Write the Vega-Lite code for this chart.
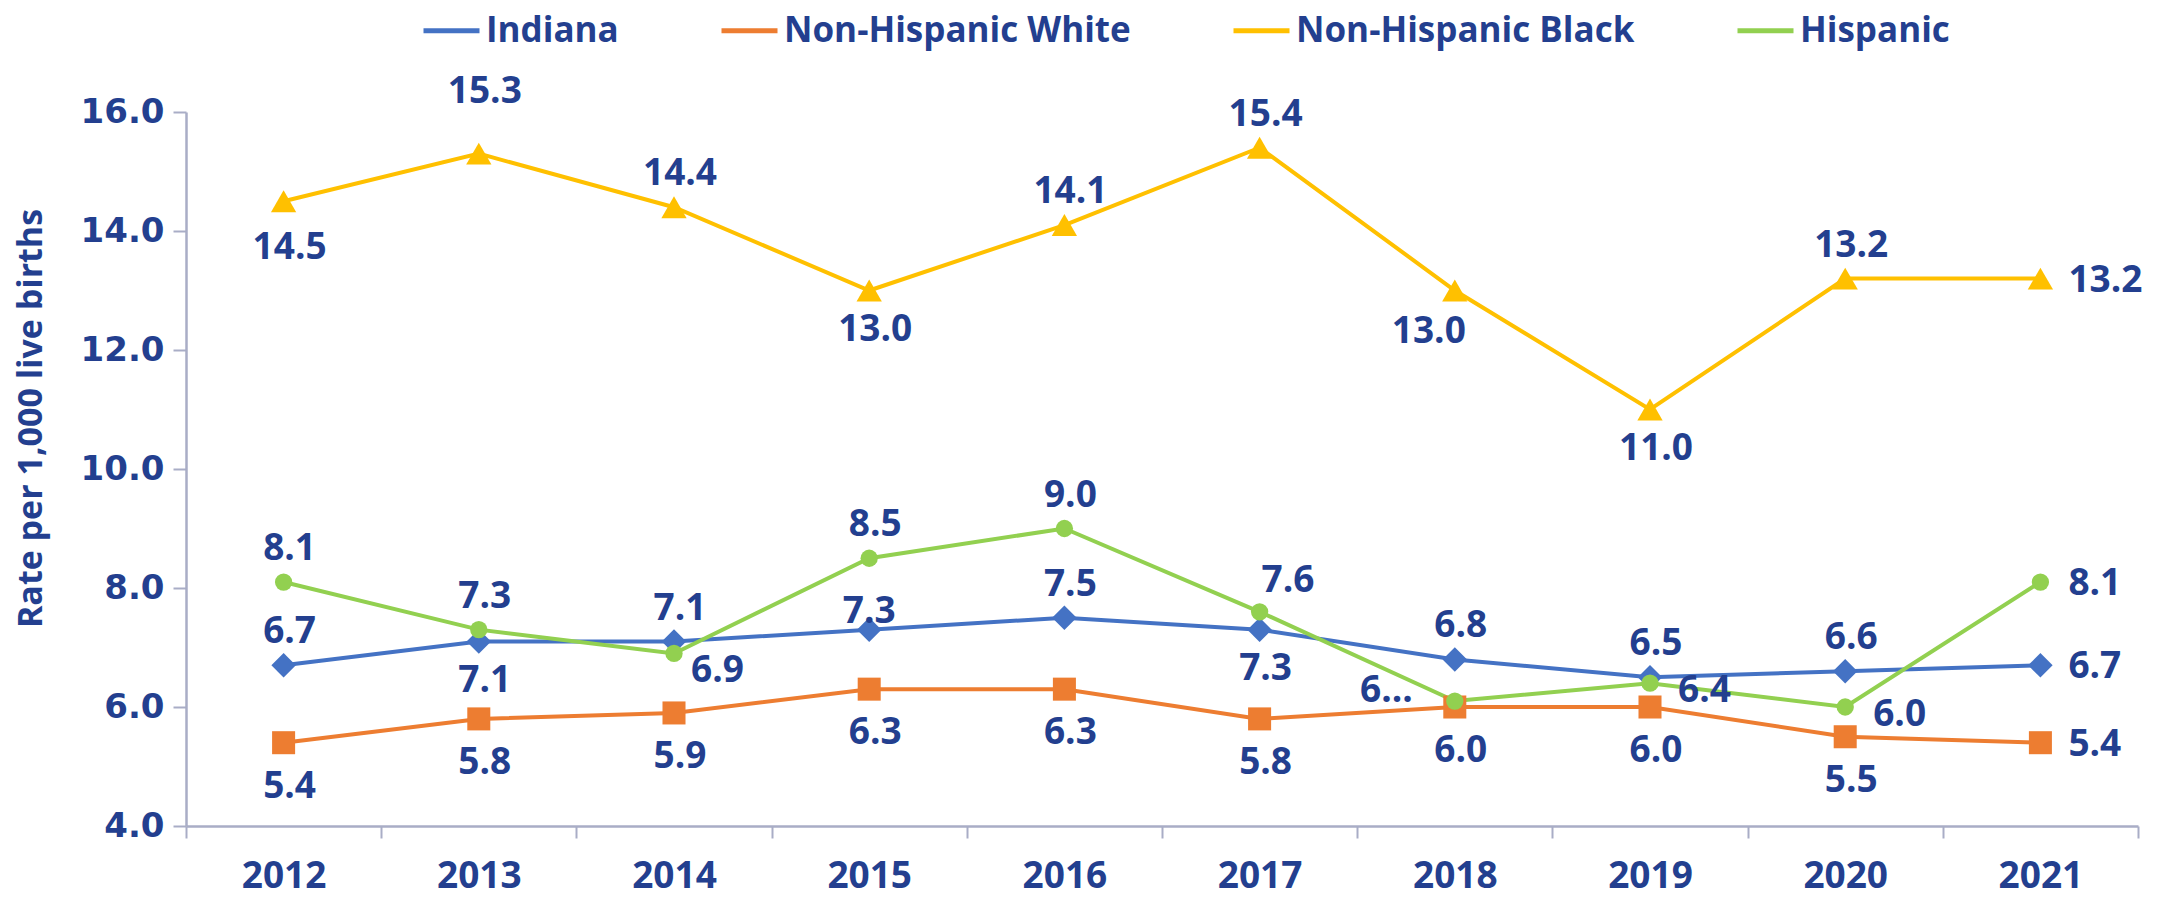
{
  "$schema": "https://vega.github.io/schema/vega-lite/v6.json",
  "width": 1952,
  "height": 714,
  "autosize": {"type": "none"},
  "padding": {"left": 186, "top": 112, "right": 26, "bottom": 73},
  "datasets": {
    "d": [
      {"series": "Indiana", "year": "2012", "value": 6.7},
      {"series": "Indiana", "year": "2013", "value": 7.1},
      {"series": "Indiana", "year": "2014", "value": 7.1},
      {"series": "Indiana", "year": "2015", "value": 7.3},
      {"series": "Indiana", "year": "2016", "value": 7.5},
      {"series": "Indiana", "year": "2017", "value": 7.3},
      {"series": "Indiana", "year": "2018", "value": 6.8},
      {"series": "Indiana", "year": "2019", "value": 6.5},
      {"series": "Indiana", "year": "2020", "value": 6.6},
      {"series": "Indiana", "year": "2021", "value": 6.7},
      {"series": "Non-Hispanic White", "year": "2012", "value": 5.4},
      {"series": "Non-Hispanic White", "year": "2013", "value": 5.8},
      {"series": "Non-Hispanic White", "year": "2014", "value": 5.9},
      {"series": "Non-Hispanic White", "year": "2015", "value": 6.3},
      {"series": "Non-Hispanic White", "year": "2016", "value": 6.3},
      {"series": "Non-Hispanic White", "year": "2017", "value": 5.8},
      {"series": "Non-Hispanic White", "year": "2018", "value": 6.0},
      {"series": "Non-Hispanic White", "year": "2019", "value": 6.0},
      {"series": "Non-Hispanic White", "year": "2020", "value": 5.5},
      {"series": "Non-Hispanic White", "year": "2021", "value": 5.4},
      {"series": "Non-Hispanic Black", "year": "2012", "value": 14.5},
      {"series": "Non-Hispanic Black", "year": "2013", "value": 15.3},
      {"series": "Non-Hispanic Black", "year": "2014", "value": 14.4},
      {"series": "Non-Hispanic Black", "year": "2015", "value": 13.0},
      {"series": "Non-Hispanic Black", "year": "2016", "value": 14.1},
      {"series": "Non-Hispanic Black", "year": "2017", "value": 15.4},
      {"series": "Non-Hispanic Black", "year": "2018", "value": 13.0},
      {"series": "Non-Hispanic Black", "year": "2019", "value": 11.0},
      {"series": "Non-Hispanic Black", "year": "2020", "value": 13.2},
      {"series": "Non-Hispanic Black", "year": "2021", "value": 13.2},
      {"series": "Hispanic", "year": "2012", "value": 8.1},
      {"series": "Hispanic", "year": "2013", "value": 7.3},
      {"series": "Hispanic", "year": "2014", "value": 6.9},
      {"series": "Hispanic", "year": "2015", "value": 8.5},
      {"series": "Hispanic", "year": "2016", "value": 9.0},
      {"series": "Hispanic", "year": "2017", "value": 7.6},
      {"series": "Hispanic", "year": "2018", "value": 6.1},
      {"series": "Hispanic", "year": "2019", "value": 6.4},
      {"series": "Hispanic", "year": "2020", "value": 6.0},
      {"series": "Hispanic", "year": "2021", "value": 8.1}
    ]
  },
  "data": {"name": "d"},
  "layer": [
    {
      "mark": {"type": "line", "strokeWidth": 4},
      "encoding": {
        "x": {"field": "year", "type": "ordinal", "scale": {"type": "band", "paddingInner": 0, "paddingOuter": 0}, "axis": {"title": null}},
        "y": {"field": "value", "type": "quantitative", "scale": {"domain": [4, 16], "nice": false, "zero": false},
          "axis": {"title": "Rate per 1,000 live births", "values": [4, 6, 8, 10, 12, 14, 16], "format": ".1f"}},
        "color": {"field": "series", "type": "nominal",
          "scale": {"domain": ["Indiana", "Non-Hispanic White", "Non-Hispanic Black", "Hispanic"], "range": ["#4472C4", "#ED7D31", "#FFC000", "#92D050"]},
          "legend": {"orient": "top", "direction": "horizontal", "title": null, "offset": -172, "padding": 235, "labelFontSize": 35, "labelFont": "Open Sans", "labelFontWeight": "bold", "labelColor": "#233F8F", "symbolSize": 3136, "symbolType": "stroke", "symbolStrokeWidth": 5, "labelLimit": 600, "columnPadding": 92, "labelOffset": 4}}
      }
    },
    {
      "transform": [{"filter": "datum.series == 'Indiana'"}],
      "mark": {"type": "point", "shape": "diamond", "filled": true, "size": 600, "opacity": 1, "color": "#4472C4"},
      "encoding": {"x": {"field": "year", "type": "ordinal"}, "y": {"field": "value", "type": "quantitative"}}
    },
    {
      "transform": [{"filter": "datum.series == 'Non-Hispanic White'"}],
      "mark": {"type": "point", "shape": "square", "filled": true, "size": 530, "opacity": 1, "color": "#ED7D31"},
      "encoding": {"x": {"field": "year", "type": "ordinal"}, "y": {"field": "value", "type": "quantitative"}}
    },
    {
      "transform": [{"filter": "datum.series == 'Non-Hispanic Black'"}],
      "mark": {"type": "point", "shape": "triangle-up", "filled": true, "size": 640, "opacity": 1, "color": "#FFC000"},
      "encoding": {"x": {"field": "year", "type": "ordinal"}, "y": {"field": "value", "type": "quantitative"}}
    },
    {
      "transform": [{"filter": "datum.series == 'Hispanic'"}],
      "mark": {"type": "point", "shape": "circle", "filled": true, "size": 300, "opacity": 1, "color": "#92D050"},
      "encoding": {"x": {"field": "year", "type": "ordinal"}, "y": {"field": "value", "type": "quantitative"}}
    },
    {
      "transform": [{"filter": "indexof(['Indiana|2012','Indiana|2014','Indiana|2016','Indiana|2018','Indiana|2019','Indiana|2020','Non-Hispanic Black|2014','Non-Hispanic Black|2016','Non-Hispanic Black|2017','Non-Hispanic Black|2020','Hispanic|2012','Hispanic|2013','Hispanic|2015','Hispanic|2016'], datum.series + '|' + datum.year) >= 0"}],
      "mark": {"type": "text", "align": "center", "baseline": "middle", "dx": 6, "dy": -33},
      "encoding": {"x": {"field": "year", "type": "ordinal"}, "y": {"field": "value", "type": "quantitative"}, "text": {"field": "value", "type": "quantitative", "format": ".1f"}}
    },
    {
      "transform": [{"filter": "indexof(['Indiana|2013','Indiana|2017','Non-Hispanic Black|2015','Non-Hispanic Black|2019'], datum.series + '|' + datum.year) >= 0"}],
      "mark": {"type": "text", "align": "center", "baseline": "middle", "dx": 6, "dy": 39},
      "encoding": {"x": {"field": "year", "type": "ordinal"}, "y": {"field": "value", "type": "quantitative"}, "text": {"field": "value", "type": "quantitative", "format": ".1f"}}
    },
    {
      "transform": [{"filter": "datum.series == 'Non-Hispanic White' && datum.year != '2021'"}],
      "mark": {"type": "text", "align": "center", "baseline": "middle", "dx": 6, "dy": 44},
      "encoding": {"x": {"field": "year", "type": "ordinal"}, "y": {"field": "value", "type": "quantitative"}, "text": {"field": "value", "type": "quantitative", "format": ".1f"}}
    },
    {
      "transform": [{"filter": "datum.year == '2021'"}],
      "mark": {"type": "text", "align": "left", "baseline": "middle", "dx": 28, "dy": 2},
      "encoding": {"x": {"field": "year", "type": "ordinal"}, "y": {"field": "value", "type": "quantitative"}, "text": {"field": "value", "type": "quantitative", "format": ".1f"}}
    },
    {
      "transform": [{"filter": "indexof(['Hispanic|2019','Hispanic|2020'], datum.series + '|' + datum.year) >= 0"}],
      "mark": {"type": "text", "align": "left", "baseline": "middle", "dx": 28, "dy": 8},
      "encoding": {"x": {"field": "year", "type": "ordinal"}, "y": {"field": "value", "type": "quantitative"}, "text": {"field": "value", "type": "quantitative", "format": ".1f"}}
    },
    {
      "transform": [{"filter": "datum.series == 'Indiana' && datum.year == '2015'"}],
      "mark": {"type": "text", "align": "center", "baseline": "middle", "dx": 0, "dy": -18},
      "encoding": {"x": {"field": "year", "type": "ordinal"}, "y": {"field": "value", "type": "quantitative"}, "text": {"field": "value", "type": "quantitative", "format": ".1f"}}
    },
    {
      "transform": [{"filter": "datum.series == 'Non-Hispanic Black' && datum.year == '2012'"}],
      "mark": {"type": "text", "align": "center", "baseline": "middle", "dx": 6, "dy": 47},
      "encoding": {"x": {"field": "year", "type": "ordinal"}, "y": {"field": "value", "type": "quantitative"}, "text": {"field": "value", "type": "quantitative", "format": ".1f"}}
    },
    {
      "transform": [{"filter": "datum.series == 'Non-Hispanic Black' && datum.year == '2013'"}],
      "mark": {"type": "text", "align": "center", "baseline": "middle", "dx": 6, "dy": -62},
      "encoding": {"x": {"field": "year", "type": "ordinal"}, "y": {"field": "value", "type": "quantitative"}, "text": {"field": "value", "type": "quantitative", "format": ".1f"}}
    },
    {
      "transform": [{"filter": "datum.series == 'Non-Hispanic Black' && datum.year == '2018'"}],
      "mark": {"type": "text", "align": "center", "baseline": "middle", "dx": -26, "dy": 41},
      "encoding": {"x": {"field": "year", "type": "ordinal"}, "y": {"field": "value", "type": "quantitative"}, "text": {"field": "value", "type": "quantitative", "format": ".1f"}}
    },
    {
      "transform": [{"filter": "datum.series == 'Hispanic' && datum.year == '2014'"}],
      "mark": {"type": "text", "align": "left", "baseline": "middle", "dx": 17, "dy": 18},
      "encoding": {"x": {"field": "year", "type": "ordinal"}, "y": {"field": "value", "type": "quantitative"}, "text": {"field": "value", "type": "quantitative", "format": ".1f"}}
    },
    {
      "transform": [{"filter": "datum.series == 'Hispanic' && datum.year == '2017'"}],
      "mark": {"type": "text", "align": "left", "baseline": "middle", "dx": 2, "dy": -31},
      "encoding": {"x": {"field": "year", "type": "ordinal"}, "y": {"field": "value", "type": "quantitative"}, "text": {"field": "value", "type": "quantitative", "format": ".1f"}}
    },
    {
      "transform": [{"filter": "datum.series == 'Hispanic' && datum.year == '2018'"}],
      "mark": {"type": "text", "align": "right", "baseline": "middle", "dx": -42, "dy": -10},
      "encoding": {"x": {"field": "year", "type": "ordinal"}, "y": {"field": "value", "type": "quantitative"}, "text": {"value": "6..."}}
    }
  ],
  "config": {
    "view": {"stroke": null},
    "text": {"font": "Open Sans", "fontWeight": "bold", "fontSize": 37, "color": "#233F8F"},
    "axis": {"grid": false, "domainColor": "#A9ADC6", "tickColor": "#A9ADC6", "domainWidth": 2.5, "tickWidth": 2},
    "axisX": {"labelAngle": 0, "labelFont": "Open Sans", "labelFontSize": 37, "labelFontWeight": "bold", "labelColor": "#233F8F", "labelPadding": 20, "tickBand": "extent", "tickSize": 12},
    "axisY": {"labelFont": "DejaVu Sans", "labelFontSize": 34, "labelFontWeight": "bold", "labelColor": "#233F8F", "labelPadding": 9, "tickSize": 13,
      "titleFont": "Open Sans", "titleFontSize": 34, "titleFontWeight": "bold", "titleColor": "#233F8F", "titleX": -155, "titleY": 306, "titleAngle": -90, "titleBaseline": "middle", "titleAlign": "center"}
  }
}
